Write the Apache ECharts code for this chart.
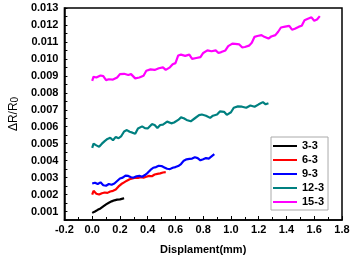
<!DOCTYPE html>
<html><head><meta charset="utf-8">
<script src="https://cdn.jsdelivr.net/npm/echarts@6/dist/echarts.min.js"></script>
<style>html,body{margin:0;padding:0;background:#fff}#c{width:354px;height:260px}</style>
</head><body><div id="c"></div>
<script>
var seriesNames = ['3-3', '6-3', '9-3', '12-3', '15-3'];
var colors = ['#000000', '#ff0000', '#0000ff', '#008080', '#ff00ff'];

var x33 = [0.00,0.02,0.04,0.06,0.08,0.10,0.12,0.14,0.16,0.18,0.20,0.22,0.23];
var y33 = [0.00092,0.00100,0.00110,0.00118,0.00130,0.00142,0.00152,0.00160,0.00166,0.00170,0.00172,0.00176,0.00178];

var x63 = [0.00,0.01,0.03,0.05,0.07,0.09,0.11,0.13,0.15,0.17,0.19,0.21,0.23,0.25,0.27,0.29,0.31,0.33,0.35,0.37,0.39,0.41,0.43,0.45,0.47,0.49,0.51,0.53];
var y63 = [0.00200,0.00222,0.00205,0.00200,0.00208,0.00212,0.00210,0.00218,0.00222,0.00230,0.00248,0.00262,0.00272,0.00282,0.00290,0.00295,0.00300,0.00298,0.00302,0.00300,0.00305,0.00310,0.00308,0.00318,0.00322,0.00325,0.00330,0.00332];

var x93 = [0.00,0.02,0.04,0.06,0.08,0.10,0.12,0.14,0.16,0.18,0.20,0.22,0.24,0.26,0.28,0.30,0.32,0.34,0.36,0.38,0.40,0.42,0.44,0.46,0.48,0.50,0.52,0.54,0.56,0.58,0.60,0.62,0.64,0.66,0.68,0.70,0.72,0.74,0.76,0.78,0.80,0.82,0.84,0.86,0.88];
var y93 = [0.00265,0.00270,0.00262,0.00272,0.00255,0.00252,0.00262,0.00258,0.00265,0.00280,0.00295,0.00300,0.00312,0.00310,0.00302,0.00300,0.00308,0.00310,0.00305,0.00315,0.00328,0.00345,0.00358,0.00362,0.00370,0.00368,0.00360,0.00352,0.00350,0.00358,0.00362,0.00368,0.00380,0.00400,0.00408,0.00410,0.00412,0.00420,0.00415,0.00402,0.00408,0.00415,0.00412,0.00425,0.00438];

var x123 = [0.00,0.01,0.03,0.05,0.07,0.09,0.11,0.13,0.15,0.17,0.19,0.21,0.23,0.25,0.27,0.29,0.31,0.33,0.36,0.38,0.40,0.43,0.45,0.47,0.49,0.51,0.54,0.57,0.59,0.62,0.64,0.66,0.68,0.71,0.74,0.77,0.79,0.82,0.85,0.87,0.90,0.92,0.95,0.97,1.00,1.02,1.05,1.08,1.11,1.14,1.17,1.20,1.23,1.25,1.27];
var y123 = [0.00475,0.00500,0.00490,0.00482,0.00500,0.00515,0.00528,0.00535,0.00520,0.00540,0.00532,0.00545,0.00572,0.00580,0.00570,0.00565,0.00558,0.00590,0.00602,0.00592,0.00590,0.00615,0.00610,0.00592,0.00610,0.00612,0.00630,0.00620,0.00625,0.00640,0.00655,0.00650,0.00640,0.00632,0.00650,0.00668,0.00672,0.00665,0.00652,0.00665,0.00672,0.00690,0.00688,0.00670,0.00685,0.00712,0.00720,0.00718,0.00712,0.00725,0.00718,0.00732,0.00745,0.00732,0.00738];

var x153 = [0.00,0.01,0.03,0.06,0.08,0.10,0.12,0.15,0.18,0.20,0.23,0.26,0.28,0.31,0.34,0.37,0.39,0.42,0.45,0.48,0.51,0.53,0.56,0.58,0.60,0.62,0.64,0.67,0.70,0.72,0.75,0.78,0.80,0.83,0.86,0.89,0.91,0.93,0.96,0.98,1.01,1.03,1.06,1.08,1.10,1.13,1.15,1.17,1.19,1.22,1.24,1.27,1.29,1.32,1.34,1.36,1.39,1.42,1.44,1.46,1.49,1.51,1.53,1.55,1.58,1.60,1.62,1.64];
var y153 = [0.00870,0.00895,0.00890,0.00902,0.00898,0.00875,0.00880,0.00878,0.00890,0.00910,0.00912,0.00905,0.00910,0.00885,0.00890,0.00900,0.00930,0.00938,0.00935,0.00945,0.00950,0.00935,0.00950,0.00968,0.00975,0.01020,0.01025,0.01018,0.01025,0.01000,0.01005,0.01010,0.01035,0.01050,0.01045,0.01050,0.01035,0.01040,0.01050,0.01075,0.01090,0.01088,0.01085,0.01068,0.01070,0.01078,0.01095,0.01130,0.01135,0.01140,0.01130,0.01120,0.01132,0.01140,0.01160,0.01185,0.01190,0.01195,0.01172,0.01178,0.01190,0.01195,0.01228,0.01235,0.01245,0.01225,0.01232,0.01252];

var xTicks = [-0.2,0.0,0.2,0.4,0.6,0.8,1.0,1.2,1.4,1.6,1.8];
var yTicks = [0.001,0.002,0.003,0.004,0.005,0.006,0.007,0.008,0.009,0.010,0.011,0.012,0.013];

var xs = [x33, x63, x93, x123, x153];
var ys = [y33, y63, y93, y123, y153];

function pairs(a, b) { return a.map(function (v, i) { return [v, b[i]]; }); }

var FONT = 'Arial, "Liberation Sans", sans-serif';
var chart = echarts.init(document.getElementById('c'), null, {renderer: 'canvas'});
chart.setOption({
  animation: false,
  backgroundColor: '#fff',
  grid: {left: 55, right: 12, top: 8, bottom: 37, show: true, borderColor: '#000', borderWidth: 1.5, backgroundColor: 'transparent'},
  legend: {
    orient: 'vertical', left: 271, top: 137,
    data: seriesNames.map(function (n) { return {name: n, icon: 'rect'}; }),
    itemWidth: 24, itemHeight: 2, itemGap: 2,
    padding: [3, 4, 2, 2],
    borderColor: '#aaa', borderWidth: 1,
    textStyle: {fontFamily: FONT, fontWeight: 'bold', fontSize: 11, color: '#000', lineHeight: 12}
  },
  xAxis: {
    type: 'value', min: xTicks[0], max: xTicks[xTicks.length - 1], interval: 0.2,
    name: 'Displament(mm)', nameLocation: 'middle', nameGap: 24,
    nameTextStyle: {fontFamily: FONT, fontWeight: 'bold', fontSize: 11, color: '#000'},
    axisLine: {onZero: false, lineStyle: {color: '#000', width: 1.5}},
    axisTick: {inside: true, length: 4, lineStyle: {color: '#000', width: 1}},
    minorTick: {show: true, splitNumber: 2, length: 3, lineStyle: {color: '#000', width: 1}},
    splitLine: {show: false},
    axisLabel: {fontFamily: FONT, fontWeight: 'bold', fontSize: 11, color: '#000', margin: 4,
      formatter: function (v) { return v.toFixed(1); }}
  },
  yAxis: {
    type: 'value', min: 0.0005, max: yTicks[yTicks.length - 1], interval: 0.0005,
    name: '{a|ΔR/R}{b|0}', nameLocation: 'middle', nameGap: 40, nameRotate: 90,
    nameTextStyle: {
      rich: {
        a: {fontFamily: FONT, fontSize: 12, color: '#000', verticalAlign: 'bottom'},
        b: {fontFamily: FONT, fontSize: 10, color: '#000', padding: [5, 0, 0, 0], verticalAlign: 'bottom'}
      }
    },
    axisLine: {onZero: false, lineStyle: {color: '#000', width: 1.5}},
    axisTick: {inside: true, length: 3, lineStyle: {color: '#000', width: 1}},
    splitLine: {show: false},
    axisLabel: {fontFamily: FONT, fontWeight: 'bold', fontSize: 11, color: '#000', margin: 6,
      formatter: function (v) {
        var k = Math.round(v * 2000);
        if (k % 2 !== 0) return '';
        var t = (k / 2000).toFixed(3);
        return yTicks.some(function (y) { return y.toFixed(3) === t; }) ? t : '';
      }}
  },
  series: seriesNames.map(function (n, i) {
    return {
      name: n, type: 'line', data: pairs(xs[i], ys[i]),
      symbol: 'none', showSymbol: false,
      lineStyle: {color: colors[i], width: 2.2},
      itemStyle: {color: colors[i]}
    };
  })
});
</script></body></html>
